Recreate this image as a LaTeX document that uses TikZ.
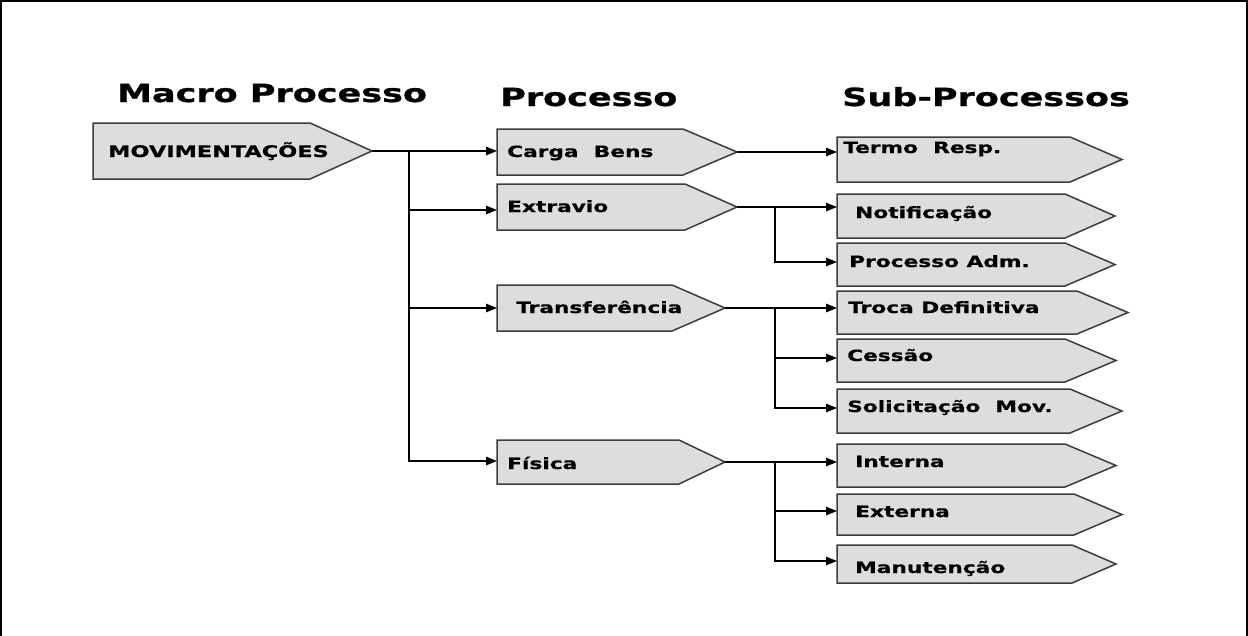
\documentclass[tikz,border=0pt]{standalone}
\usepackage{fontspec}
\newfontfamily\vfont[FakeStretch=1.4, FakeBold=0.6]{DejaVu Sans Bold}
\newfontfamily\hfont[FakeStretch=1.4, FakeBold=1]{DejaVu Sans Bold}
\usetikzlibrary{arrows.meta}
\definecolor{tagfill}{HTML}{DDDDDD}
\definecolor{tagline}{HTML}{3C3C3C}

\begin{document}
\begin{tikzpicture}[x=1pt, y=-1pt,
  tagshape/.style={draw=tagline, fill=tagfill, line width=1.5pt},
  tagtext/.style={anchor=base west, inner sep=0pt, font=\vfont\fontsize{15.5}{18}\selectfont},
  headtext/.style={anchor=base west, inner sep=0pt, font=\hfont\fontsize{25}{30}\selectfont},
  wire/.style={draw=black, line width=1.2pt},
  link/.style={wire, -{Triangle[length=11pt, width=8.5pt]}}]
  \useasboundingbox (0,0) rectangle (1248,635);
  \draw[line width=2.5pt] (1,640) -- (1,1) -- (1247,1) -- (1247,640);

  % column titles
  \node[headtext] (macro) at (117,102) {Macro Processo};
  \node[headtext] (proc) at (500,106) {Processo};
  \node[headtext] (sub) at (842,106) {Sub-Processos};

  % macro processo
  \filldraw[tagshape] (93,123) -- (310,123) -- (372,151) coordinate (mov-tip)
    -- (310,179) -- (93,179) -- cycle;
  \node[tagtext, font=\vfont\fontsize{16}{18}\selectfont] (mov) at (108,157) {MOVIMENTAÇÕES};

  % processos
  \foreach \n/\t/\b/\s/\p/\tx/\ty/\iy/\txt in {
    carga/129/175/683/737/507/157/151/{Carga\ \ Bens},
    extravio/184/230/685/737/507/212/210/Extravio,
    transf/285/331/672/725/516/313/308/Transferência,
    fisica/440/484/679/725/507/469/461/Física} {
    \filldraw[tagshape] (497,\t) -- (\s,\t) -- (\p,{(\t+\b)/2}) -- (\s,\b) -- (497,\b) -- cycle;
    \coordinate (\n-tip) at (\p,{(\t+\b)/2});
    \coordinate (\n-in) at (497,\iy);
    \node[tagtext] (\n) at (\tx,\ty) {\txt};
  }

  % sub-processos
  \foreach \n/\t/\b/\s/\p/\tx/\ty/\iy/\txt in {
    termo/137/182/1070/1122/843/153/152/{Termo\ \ Resp.},
    notif/194/238/1065/1115/855/218/207/Notificação,
    procadm/243/286/1065/1115/849/267/262/{Processo Adm.},
    troca/291/334/1077/1128/848/313/308/{Troca Definitiva},
    cessao/339/382/1065/1116/847/361/358/Cessão,
    solic/389/433/1070/1122/847/412/408/{Solicitação\ \ Mov.},
    interna/444/487/1065/1116/855/467/462/Interna,
    externa/494/535/1074/1122/855/517/511/Externa,
    manut/545/583/1072/1116/855/573/561/Manutenção} {
    \filldraw[tagshape] (837,\t) -- (\s,\t) -- (\p,{(\t+\b)/2}) -- (\s,\b) -- (837,\b) -- cycle;
    \coordinate (\n-in) at (837,\iy);
    \node[tagtext] (\n) at (\tx,\ty) {\txt};
  }

  % connectors
  \coordinate (trunk) at (409,151);
  \coordinate (branch) at (775,0);
  \draw[link] (mov-tip) -- (carga-in);
  \foreach \n in {extravio, transf, fisica}
    \draw[link] (trunk) |- (\n-in);
  \draw[link] (carga-tip) -- (termo-in);
  \draw[link] (extravio-tip) -- (notif-in);
  \draw[link] (extravio-tip -| branch) |- (procadm-in);
  \draw[link] (transf-tip) -- (troca-in);
  \draw[link] (transf-tip -| branch) |- (cessao-in);
  \draw[link] (transf-tip -| branch) |- (solic-in);
  \draw[link] (fisica-tip) -- (interna-in);
  \draw[link] (fisica-tip -| branch) |- (externa-in);
  \draw[link] (fisica-tip -| branch) |- (manut-in);
\end{tikzpicture}
\end{document}
